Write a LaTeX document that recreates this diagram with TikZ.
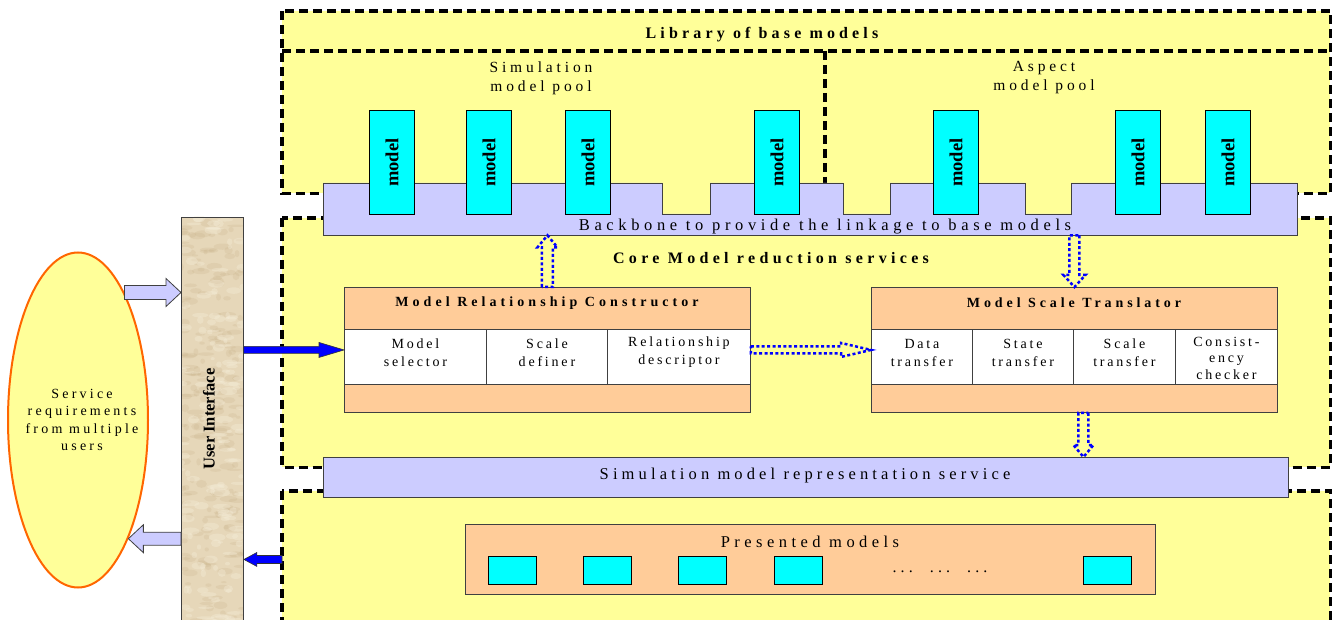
\documentclass[tikz,border=0pt]{standalone}
\usepackage{fontspec}
\setmainfont{Liberation Serif}
\usetikzlibrary{calc,shapes.geometric}

\definecolor{zoneyellow}{HTML}{FFFF99}
\definecolor{lavender}{HTML}{CCCCFF}
\definecolor{peach}{HTML}{FFCC99}
\definecolor{modelcyan}{HTML}{00FFFF}
\definecolor{ellipseedge}{HTML}{FF6600}
\definecolor{parchment}{RGB}{230,215,185}
\definecolor{parchdark}{RGB}{190,165,120}
\definecolor{parchlight}{RGB}{246,238,218}
\definecolor{arrowblue}{HTML}{0000FF}

% tracking for the widely spaced captions
\newcommand\spaced[1]{\addfontfeatures{LetterSpace=#1}}

\begin{document}
\begin{tikzpicture}[x=1pt,y=-1pt,
  zone/.style={fill=zoneyellow, anchor=north west, inner sep=0pt},
  dashline/.style={draw=black, line width=3.3pt, dash pattern=on 9pt off 5pt},
  panel/.style={draw=black!75, line width=0.9pt, anchor=north west, inner sep=0pt},
  cell/.style={panel, fill=white, minimum height=55pt},
  celltext/.style={inner sep=0pt, align=center, font=\fontsize{14}{18}\selectfont\spaced{20}},
  modelbox/.style={draw=black, line width=1.1pt, fill=modelcyan, anchor=north west,
    minimum width=45pt, minimum height=104pt, inner sep=0pt},
  smallbox/.style={draw=black, line width=1pt, fill=modelcyan, anchor=north west,
    minimum width=48pt, minimum height=28pt, inner sep=0pt},
  modeltext/.style={rotate=90, inner sep=0pt, font=\bfseries\fontsize{18.5}{20}\selectfont},
  title/.style={inner sep=0pt, font=\bfseries\fontsize{16}{19}\selectfont\spaced{26}},
  subtitle/.style={inner sep=0pt, font=\bfseries\fontsize{14}{17}\selectfont\spaced{28}},
  body/.style={inner sep=0pt, align=center, font=\fontsize{16}{19}\selectfont\spaced{26}},
  small/.style={inner sep=0pt, align=center, font=\fontsize{14}{17.6}\selectfont\spaced{23}},
  % block arrow outline: #1 half shaft width, #2 half head width, #3 head length
  blockto/.style n args={3}{to path={
    ($(\tikztostart)!#1!90:(\tikztotarget)$) --
    ($(\tikztotarget)!#3!(\tikztostart)!#1!90:(\tikztotarget)$) --
    ($(\tikztotarget)!#3!(\tikztostart)!#2!90:(\tikztotarget)$) --
    (\tikztotarget) --
    ($(\tikztotarget)!#3!(\tikztostart)!#2!-90:(\tikztotarget)$) --
    ($(\tikztotarget)!#3!(\tikztostart)!#1!-90:(\tikztotarget)$) --
    ($(\tikztostart)!#1!-90:(\tikztotarget)$) -- cycle}},
  hollow/.style={draw=arrowblue, line width=2.5pt, dash pattern=on 3pt off 2.4pt},
  solidblue/.style={fill=arrowblue, draw=black!80, line width=0.6pt},
  paleblock/.style={fill=lavender, draw=black!75, line width=0.8pt}
]
\useasboundingbox (0,0) rectangle (1334,620);
\clip (0,0) rectangle (1334,620);

% dashed zones: fills, then borders
\node[zone, minimum width=1048pt, minimum height=182pt] (lib) at (282,11) {};
\node[zone, minimum width=543pt, minimum height=142pt] (simpool) at (282,51) {};
\node[zone, minimum width=505pt, minimum height=142pt] (asppool) at (825,51) {};
\node[zone, minimum width=1048pt, minimum height=249pt] (core) at (282,218) {};
\node[zone, minimum width=1048pt, minimum height=170pt] (bot) at (282,491) {};
\draw[dashline] (lib.north west) rectangle (lib.south east);
\draw[dashline] (simpool.north west) -- (asppool.north east);
\draw[dashline] (asppool.north west) -- (asppool.south west);
\draw[dashline] (core.north west) rectangle (core.south east);
\draw[dashline] (bot.north west) rectangle (bot.south east);

\node[title] (libtitle) at (762,35) {Library of base models};
\node[body, font=\fontsize{15.5}{19}\selectfont\spaced{25}] (simtitle) at (541,78) {Simulation\\model pool};
\node[body, font=\fontsize{15.5}{19}\selectfont\spaced{25}] (asptitle) at (1044,78) {Aspect\\model pool};

% backbone with notches
\node[inner sep=0pt, minimum width=974pt, minimum height=52pt, anchor=north west]
  (backbone) at (323,183) {};
\foreach \a/\b in {662/710, 843/890, 1025/1071}{
  \fill[zoneyellow] (\a,180) rectangle (\b,214);
}
\draw[fill=lavender, draw=black!75, line width=0.9pt]
  (323,183) -- (662,183) -- (662,214) -- (710,214) -- (710,183)
  -- (843,183) -- (843,214) -- (890,214) -- (890,183)
  -- (1025,183) -- (1025,214) -- (1071,214) -- (1071,183)
  -- (1297,183) -- (1297,235) -- (323,235) -- cycle;
\node[body, font=\fontsize{16.5}{19}\selectfont\spaced{28}] (bbtext) at (825,227) {Backbone to provide the linkage to base models};

% base models
\foreach \n/\x in {m1/369, m2/466, m3/565, m4/754, m5/933, m6/1115, m7/1205}{
  \node[modelbox] (\n) at (\x,110) {};
  \node[modeltext] at (\n) {model};
}

% core services
\node[title, font=\bfseries\fontsize{16}{19}\selectfont\spaced{27}] (coretitle) at (771,258) {Core Model reduction services};

\node[panel, fill=peach, minimum width=406pt, minimum height=125pt] (mrc) at (344,287) {};
\node[subtitle, font=\bfseries\fontsize{14}{17}\selectfont\spaced{29}] (mrctitle) at (547,303) {Model Relationship Constructor};
\node[cell, minimum width=142pt] (msel) at (344,329) {};
\node[cell, minimum width=121pt] (sdef) at (486,329) {};
\node[cell, minimum width=143pt] (rdesc) at (607,329) {};
\node[celltext] at ([yshift=4pt]msel.center) {Model\\selector};
\node[celltext] at ([yshift=4pt]sdef.center) {Scale\\definer};
\node[celltext] at ([yshift=5pt]rdesc.center) {Relationship\\descriptor};

\node[panel, fill=peach, minimum width=406pt, minimum height=125pt] (mst) at (871,287) {};
\node[subtitle] (msttitle) at (1074,303) {Model Scale Translator};
\node[cell, minimum width=101pt] (dtr) at (871,329) {};
\node[cell, minimum width=101pt] (str) at (972,329) {};
\node[cell, minimum width=102pt] (sctr) at (1073,329) {};
\node[cell, minimum width=102pt] (cchk) at (1175,329) {};
\node[celltext] at ([yshift=4pt]dtr.center) {Data\\transfer};
\node[celltext] at ([yshift=4pt]str.center) {State\\transfer};
\node[celltext] at ([yshift=4pt]sctr.center) {Scale\\transfer};
\node[celltext, font=\fontsize{14}{16.5}\selectfont\spaced{20}] at ([yshift=-1pt]cchk.center) {Consist-\\ency\\checker};

% representation service
\node[panel, fill=lavender, minimum width=965pt, minimum height=40pt] (rep) at (323,457) {};
\node[body, font=\fontsize{16.5}{19}\selectfont\spaced{25}] (reptext) at (805,476) {Simulation model representation service};

% presented models
\node[panel, fill=peach, minimum width=690pt, minimum height=70pt] (pres) at (465,524) {};
\node[body, font=\fontsize{16.5}{19}\selectfont\spaced{27}] (prestitle) at (810,542) {Presented models};
\foreach \n/\x in {p1/488, p2/583, p3/678, p4/774, p5/1083}{
  \node[smallbox] (\n) at (\x,556) {};
}
\node[body] (dots) at (940,572) {...\hspace{17pt}...\hspace{17pt}...};

% user interface bar
\node[panel, fill=parchment, minimum width=62pt, minimum height=430pt] (ui) at (181,217) {};
\begin{scope}
  \clip (181,217) rectangle (243,647);
  \pgfmathsetseed{42}
  \foreach \i in {1,...,220}{
    \pgfmathsetmacro\px{181+62*rnd}
    \pgfmathsetmacro\py{217+410*rnd}
    \pgfmathsetmacro\rx{2+7*rnd}
    \pgfmathsetmacro\ry{1+3*rnd}
    \fill[parchdark, opacity=0.16] (\px,\py) ellipse[x radius=\rx pt, y radius=\ry pt];
  }
  \foreach \i in {1,...,160}{
    \pgfmathsetmacro\px{181+62*rnd}
    \pgfmathsetmacro\py{217+410*rnd}
    \pgfmathsetmacro\rx{2+7*rnd}
    \pgfmathsetmacro\ry{1+3*rnd}
    \fill[parchlight, opacity=0.35] (\px,\py) ellipse[x radius=\rx pt, y radius=\ry pt];
  }
\end{scope}
\draw[black!75, line width=0.9pt] (ui.north west) rectangle (ui.south east);
\node[rotate=90, inner sep=0pt, font=\bfseries\fontsize{16.5}{18}\selectfont] (uitext) at (209,419) {User Interface};

% users
\node[ellipse, draw=ellipseedge, line width=2pt, fill=zoneyellow,
  minimum width=140pt, minimum height=335pt, inner sep=0pt] (ell) at (78,420) {};
\node[small] (elltext) at (82,420) {Service\\requirements\\from multiple\\users};

% connectors
\draw[paleblock] (ell.70) to[blockto={7pt}{14pt}{15pt}] (ui.west |- ell.70);
\draw[paleblock] (ui.west |- ell.-67) to[blockto={6.5pt}{14pt}{15pt}] (ell.-67);
\draw[solidblue] (ui.east |- mrc.west) to[blockto={3.5pt}{7.5pt}{25pt}] (mrc.west);
\draw[solidblue] (bot.west |- pres.west) to[blockto={4pt}{7pt}{13pt}] (ui.east |- pres.west);

\draw[hollow] (mrc.north) to[blockto={5.5pt}{10pt}{12pt}] (mrc.north |- backbone.south);
\draw[hollow] (mst.north |- backbone.south) to[blockto={5pt}{11pt}{12pt}] (mst.north);
\draw[hollow] (mrc.east) to[blockto={3.5pt}{7pt}{30pt}] (mst.west |- mrc.east);
\draw[hollow] ([xshift=9pt]mst.south) to[blockto={5pt}{10pt}{12pt}] ([xshift=9pt]mst.south |- rep.north);
\end{tikzpicture}
\end{document}
